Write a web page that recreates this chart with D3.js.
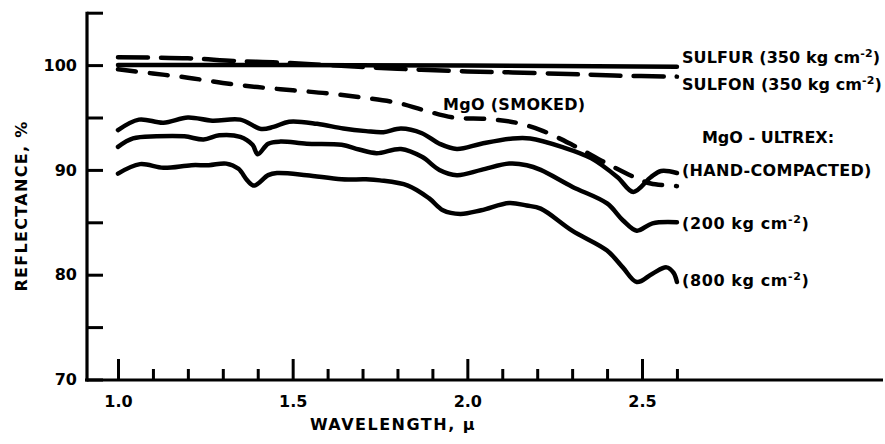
<!DOCTYPE html>
<html>
<head>
<meta charset="utf-8">
<script src="https://cdn.jsdelivr.net/npm/d3@7"></script>
<style>
  body { margin: 0; background: #fff; }
  svg { display: block; font-family: "DejaVu Sans", sans-serif; font-weight: bold; }
</style>
</head>
<body>
<svg id="chart" width="885" height="444"></svg>
<script>
// wavelength (micron), reflectance (%)
const sulfur = [[1.0, 100.0], [1.5, 100.0], [2.0, 99.95], [2.6, 99.85]];
const sulfon = [[1.0, 100.75], [1.2, 100.65], [1.33, 100.4], [1.46, 100.25], [1.6, 100.0],
  [1.8, 99.65], [2.0, 99.4], [2.13, 99.3], [2.29, 99.15], [2.42, 99.0], [2.6, 98.9]];
const smoked = [[1.0, 99.6], [1.1, 99.2], [1.2, 98.8], [1.3, 98.3], [1.4, 97.9], [1.5, 97.6],
  [1.6, 97.3], [1.7, 96.9], [1.8, 96.4], [1.875, 95.7], [1.96, 95.0], [2.06, 94.85],
  [2.14, 94.5], [2.21, 93.8], [2.30, 92.4], [2.40, 90.6], [2.485, 89.2], [2.525, 88.7],
  [2.6, 88.45]];
const handCompacted = [[1.0, 93.8], [1.06, 94.8], [1.13, 94.5], [1.20, 95.0], [1.27, 94.7],
  [1.35, 94.8], [1.41, 93.9], [1.445, 94.1], [1.49, 94.6], [1.57, 94.4], [1.645, 93.95],
  [1.71, 93.7], [1.76, 93.6], [1.81, 93.95], [1.87, 93.5], [1.92, 92.5], [1.97, 92.0],
  [2.04, 92.5], [2.13, 93.0], [2.18, 93.0], [2.27, 92.2], [2.355, 91.1], [2.43, 89.3],
  [2.475, 87.9], [2.525, 89.3], [2.555, 89.9], [2.6, 89.7]];
const press200 = [[1.0, 92.2], [1.043, 93.0], [1.11, 93.2], [1.19, 93.2], [1.245, 92.9],
  [1.29, 93.3], [1.35, 93.15], [1.385, 92.4], [1.40, 91.5], [1.43, 92.5], [1.465, 92.7],
  [1.54, 92.5], [1.64, 92.4], [1.69, 91.95], [1.74, 91.6], [1.81, 92.0], [1.87, 91.25],
  [1.92, 90.0], [1.97, 89.5], [2.04, 90.0], [2.12, 90.6], [2.17, 90.45], [2.21, 90.0],
  [2.30, 88.4], [2.40, 86.8], [2.445, 85.2], [2.485, 84.2], [2.53, 84.9], [2.6, 85.0]];
const press800 = [[1.0, 89.65], [1.063, 90.55], [1.13, 90.2], [1.21, 90.45], [1.26, 90.45],
  [1.31, 90.6], [1.345, 90.1], [1.37, 89.0], [1.39, 88.5], [1.43, 89.5], [1.455, 89.7],
  [1.54, 89.5], [1.64, 89.1], [1.71, 89.1], [1.75, 89.0], [1.83, 88.5], [1.89, 87.3],
  [1.93, 86.15], [1.98, 85.8], [2.04, 86.15], [2.12, 86.85], [2.17, 86.6], [2.21, 86.3],
  [2.30, 84.2], [2.40, 82.3], [2.445, 80.7], [2.485, 79.3], [2.53, 80.1], [2.57, 80.7],
  [2.59, 80.2], [2.6, 79.3]];

const xMajorTicks = [1.0, 1.5, 2.0, 2.5];
const xMinorTicks = [1.1, 1.2, 1.3, 1.4, 1.6, 1.7, 1.8, 1.9, 2.1, 2.2, 2.3, 2.4, 2.6];
const yTicks = [70, 75, 80, 85, 90, 95, 100, 105];
const yTickLabels = [70, 80, 90, 100];

const svg = d3.select("#chart");
svg.append("rect").attr("width", 885).attr("height", 444).attr("fill", "#fff");

const x = d3.scaleLinear().domain([1.0, 2.5]).range([118, 642]);
const y = d3.scaleLinear().domain([70, 105]).range([379.5, 12.7]);

// axis lines
svg.append("line").attr("x1", 87).attr("x2", 87).attr("y1", y(105) - 1).attr("y2", 381.5)
  .attr("stroke", "#000").attr("stroke-width", 3.2);
svg.append("line").attr("x1", 85).attr("x2", 883).attr("y1", 380).attr("y2", 380)
  .attr("stroke", "#000").attr("stroke-width", 3.2);

// Y axis
svg.append("g").attr("transform", "translate(87,0)")
  .call(d3.axisLeft(y).tickValues(yTicks).tickSize(-16).tickPadding(10)
    .tickFormat(d => yTickLabels.includes(d) ? d : ""));

// X axis: major + minor ticks
svg.append("g").attr("transform", "translate(0,380)")
  .call(d3.axisBottom(x).tickValues(xMajorTicks).tickSize(-21).tickPadding(16)
    .tickFormat(d3.format(".1f")));
svg.append("g").attr("transform", "translate(0,380)")
  .call(d3.axisBottom(x).tickValues(xMinorTicks).tickSize(-11).tickFormat(""));

svg.selectAll(".domain").remove();
svg.selectAll(".tick line").attr("stroke", "#000").attr("stroke-width", 3);
svg.selectAll(".tick text").attr("fill", "#000").attr("font-size", 16)
  .attr("font-family", "DejaVu Sans").attr("font-weight", "bold");

// axis titles
svg.append("text").attr("x", 393).attr("y", 430).attr("text-anchor", "middle")
  .attr("font-size", 16).attr("letter-spacing", 1.5).text("WAVELENGTH, μ");
svg.append("text").attr("transform", "translate(27,206) rotate(-90)")
  .attr("text-anchor", "middle").attr("font-size", 16).attr("letter-spacing", 1.3)
  .text("REFLECTANCE, %");

// curves
const line = d3.line().x(d => x(d[0])).y(d => y(d[1])).curve(d3.curveCatmullRom.alpha(0.5));
const series = [
  { data: sulfur, dash: null },
  { data: sulfon, dash: "30,13" },
  { data: smoked, dash: "18,14" },
  { data: handCompacted, dash: null },
  { data: press200, dash: null },
  { data: press800, dash: null }
];
series.forEach(s => {
  svg.append("path").datum(s.data).attr("d", line)
    .attr("fill", "none").attr("stroke", "#000").attr("stroke-width", 4.5)
    .attr("stroke-linecap", "round").attr("stroke-linejoin", "round")
    .attr("stroke-dasharray", s.dash);
});

// labels
function label(tx, ty, main, sup, spacing, anchor) {
  const t = svg.append("text").attr("x", tx).attr("y", ty).attr("font-size", 16)
    .attr("letter-spacing", spacing).attr("text-anchor", anchor || "start");
  t.append("tspan").text(main);
  if (sup) {
    t.append("tspan").attr("font-size", 11).attr("dy", -6).text(sup);
    t.append("tspan").attr("dy", 6).text(")");
  }
  return t;
}
label(682, 62.5, "SULFUR (350 kg cm", "-2", 0.1);
label(682, 89.5, "SULFON (350 kg cm", "-2", 0.1);
label(443, 110, "MgO (SMOKED)", null, 0.3);
label(768, 143, "MgO - ULTREX:", null, 0, "middle");
label(682, 176, "(HAND-COMPACTED)", null, 0.3);
label(682, 229, "(200 kg cm", "-2", 0.6);
label(682, 286, "(800 kg cm", "-2", 0.6);
</script>
</body>
</html>
